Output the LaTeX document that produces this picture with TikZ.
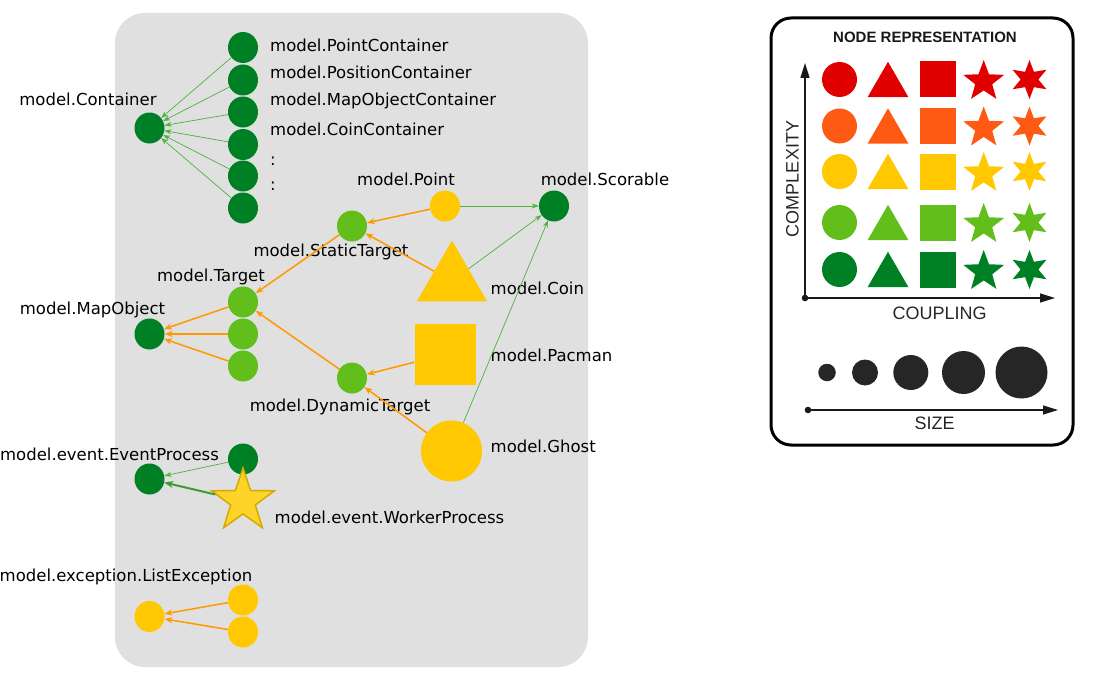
\documentclass[tikz,border=0pt]{standalone}
\usepackage{fontspec}
\setmainfont{DejaVu Sans}
\newfontfamily\legfont{Liberation Sans}
\usetikzlibrary{shapes.geometric,arrows.meta}
\definecolor{dgreen}{RGB}{0,128,36}
\definecolor{lgreen}{RGB}{98,190,27}
\definecolor{cyellow}{RGB}{255,200,0}
\definecolor{cred}{RGB}{225,0,0}
\definecolor{corange}{RGB}{255,90,20}
\definecolor{eorange}{RGB}{255,153,0}
\definecolor{egreen}{RGB}{77,179,61}
\definecolor{panel}{RGB}{224,224,224}
\definecolor{stary}{RGB}{255,212,42}
\definecolor{starb}{RGB}{212,170,0}
\definecolor{sizegray}{RGB}{38,38,38}
\begin{document}
\begin{tikzpicture}[x=1pt,y=-1pt,
  dot/.style={ellipse,minimum width=30pt,minimum height=31pt,inner sep=0pt,draw=none},
  lbl/.style={font=\fontsize{16.5}{19}\selectfont,inner sep=0pt,text=black,text height=13pt,text depth=1pt},
  oedge/.style={draw=eorange,line width=1.5pt,-{Stealth[length=8pt,width=6pt]}},
  gedge/.style={draw=egreen,line width=0.7pt,-{Stealth[length=7pt,width=5pt]}},
  gthick/.style={draw=egreen!85!black,line width=2pt,-{Stealth[length=9pt,width=7pt]}},
  legtxt/.style={font=\legfont\fontsize{18}{21}\selectfont,text=black!85,inner sep=0pt},
  legshape/.style={inner sep=0pt,draw=none},
  axarrow/.style={line width=1.3pt,draw=black!90,-{Triangle[length=15pt,width=9pt]}},
]
\useasboundingbox (0,0) rectangle (1117,677);
% panel
\fill[panel,rounded corners=30pt] (115,13) rectangle (588,667);

% ---------- Container group
\node[dot,fill=dgreen] (cont) at (149.5,128) {};
\node[lbl] (contL) at (88,100) {model.Container};
\foreach \yy [count=\i] in {47.5,80,112,144.5,176,208}
  \node[dot,fill=dgreen] (pc\i) at (243,\yy) {};
\node[lbl,anchor=west] (pcL1) at (270,46) {model.PointContainer};
\node[lbl,anchor=west] (pcL2) at (270,72) {model.PositionContainer};
\node[lbl,anchor=west] (pcL3) at (270,100) {model.MapObjectContainer};
\node[lbl,anchor=west] (pcL4) at (270,129.5) {model.CoinContainer};
\node[lbl,anchor=west] (pcL5) at (270,159) {:};
\node[lbl,anchor=west] (pcL6) at (270,184) {:};
\foreach \i in {1,...,6} \draw[gedge] (pc\i) -- (cont);

% ---------- Scorable / Point / Coin / Pacman / Ghost
\node[dot,fill=dgreen] (scor) at (554,206) {};
\node[lbl] (scorL) at (605,179.5) {model.Scorable};
\node[dot,fill=cyellow] (point) at (445,206) {};
\node[lbl] (pointL) at (406,179.5) {model.Point};
\node[dot,fill=lgreen] (stat) at (352,226) {};
\node[lbl] (statL) at (331,250) {model.StaticTarget};
\node[regular polygon,regular polygon sides=3,minimum size=81pt,inner sep=0pt,fill=cyellow] (coin) at (452,281) {};
\node[lbl,anchor=west] (coinL) at (490.5,288.5) {model.Coin};
\node[rectangle,minimum width=61pt,minimum height=61pt,inner sep=0pt,fill=cyellow] (pac) at (445,354.5) {};
\node[lbl,anchor=west] (pacL) at (490.5,355) {model.Pacman};
\node[ellipse,minimum width=61pt,minimum height=61pt,inner sep=0pt,fill=cyellow] (ghost) at (451.5,451) {};
\node[lbl,anchor=west] (ghostL) at (490.5,446) {model.Ghost};
\node[dot,fill=lgreen] (dyn) at (352,378) {};
\node[lbl] (dynL) at (340,405) {model.DynamicTarget};

% ---------- Target / MapObject
\node[dot,fill=dgreen] (mapo) at (149.5,334) {};
\node[lbl] (mapoL) at (92.5,308.5) {model.MapObject};
\node[dot,fill=lgreen] (tg1) at (243,302) {};
\node[dot,fill=lgreen] (tg2) at (243,334) {};
\node[dot,fill=lgreen] (tg3) at (243,366) {};
\node[lbl] (tgL) at (211,275) {model.Target};

\draw[gedge] (point) -- (scor);
\draw[gedge] (coin) -- (scor);
\draw[gedge] (ghost) -- (scor);
\draw[oedge] (point) -- (stat);
\draw[oedge] (coin) -- (stat);
\draw[oedge] (stat) -- (tg1);
\draw[oedge] (dyn) -- (tg1);
\draw[oedge] (pac) -- (dyn);
\draw[oedge] (ghost) -- (dyn);
\draw[oedge] (tg1) -- (mapo);
\draw[oedge] (tg2) -- (mapo);
\draw[oedge] (tg3) -- (mapo);

% ---------- Event process
\node[dot,fill=dgreen] (evp) at (149.5,479) {};
\node[lbl] (evpL) at (109.5,454) {model.event.EventProcess};
\node[dot,fill=dgreen] (ev2) at (243,459) {};
\node[star,star points=5,star point ratio=2.55,minimum size=66pt,inner sep=0pt,fill=stary,draw=starb,line width=1.5pt] (work) at (243,501) {};
\node[lbl,anchor=west] (workL) at (274.5,517) {model.event.WorkerProcess};
\draw[gedge] (ev2) -- (evp);
\draw[gthick] (work) -- (evp);

% ---------- List exception
\node[dot,fill=cyellow] (lex) at (149.5,616.5) {};
\node[lbl] (lexL) at (126,575) {model.exception.ListException};
\node[dot,fill=cyellow] (lx1) at (243,600) {};
\node[dot,fill=cyellow] (lx2) at (243,632) {};
\draw[oedge] (lx1) -- (lex);
\draw[oedge] (lx2) -- (lex);

% ---------- Legend
\draw[line width=3pt,rounded corners=20pt] (771,18) rectangle (1073,445);
\node[font=\legfont\bfseries\fontsize{15}{18}\selectfont,text=black!90,inner sep=0pt] (legT) at (925,37.5) {NODE REPRESENTATION};
\foreach \col/\yy [count=\i] in {cred/79.5,corange/126,cyellow/171.5,lgreen/222.5,dgreen/269.5}{
  \node[legshape,circle,minimum size=35pt,fill=\col] (lci\i) at (839.5,\yy) {};
  \node[legshape,regular polygon,regular polygon sides=3,minimum size=47pt,fill=\col] (ltr\i) at (888,\yy+5.8) {};
  \node[legshape,rectangle,minimum size=36pt,fill=\col] (lsq\i) at (937.5,\yy) {};
  \node[legshape,star,star points=5,star point ratio=2.4,minimum size=43pt,fill=\col] (lst\i) at (983.7,\yy+2) {};
  \node[legshape,star,star points=6,star point ratio=2.2,minimum size=39pt,fill=\col] (lsx\i) at (1029.5,\yy) {};
}
\coordinate (ax0) at (805,298);
\coordinate (axY) at (805,63);
\coordinate (axX) at (1055,298);
\fill[black!90] (ax0) circle (3.3pt);
\draw[axarrow] (ax0) -- (axY);
\draw[axarrow] (ax0) -- (axX);
\node[legtxt] (coupL) at (939.7,313.3) {COUPLING};
\node[legtxt,rotate=90] (compL) at (792.5,179) {COMPLEXITY};

\node[legshape,circle,fill=sizegray,minimum size=17.5pt] (sz1) at (827,372.5) {};
\node[legshape,circle,fill=sizegray,minimum size=26pt] (sz2) at (865,372.5) {};
\node[legshape,circle,fill=sizegray,minimum size=35pt] (sz3) at (910.8,372.5) {};
\node[legshape,circle,fill=sizegray,minimum size=43pt] (sz4) at (963.5,372.5) {};
\node[legshape,circle,fill=sizegray,minimum size=52pt] (sz5) at (1021.5,372.5) {};
\coordinate (sx0) at (808,410);
\coordinate (sxE) at (1058,410);
\fill[black!90] (sx0) circle (3.3pt);
\draw[axarrow] (sx0) -- (sxE);
\node[legtxt] (sizeL) at (934.5,423) {SIZE};
\end{tikzpicture}
\end{document}
